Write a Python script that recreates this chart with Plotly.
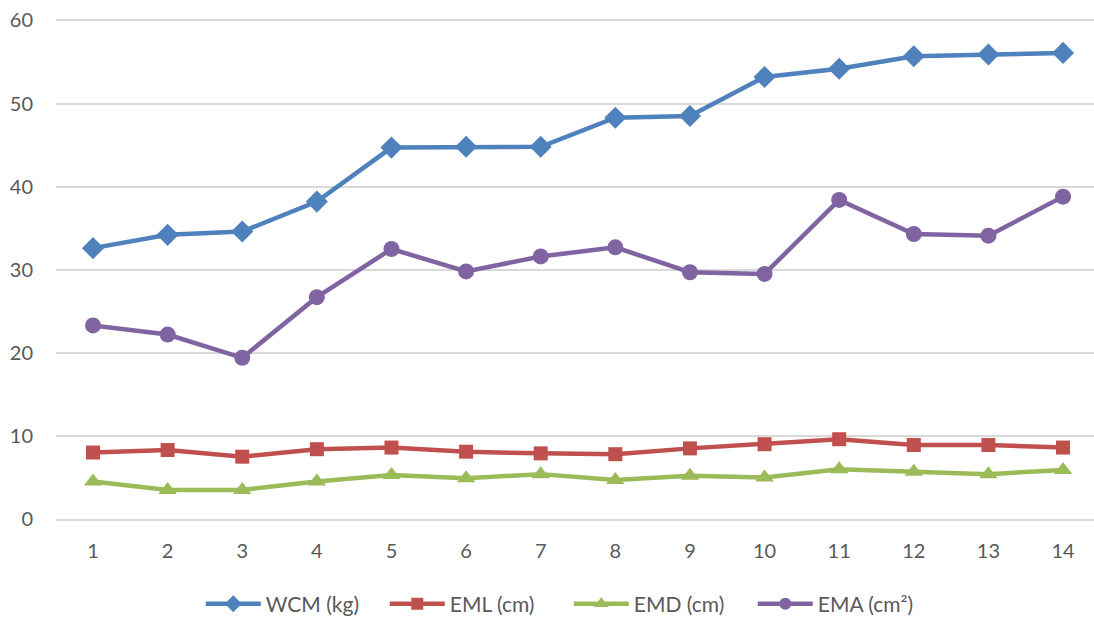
import plotly.graph_objects as go

# Sample index on the category axis
samples = list(range(1, 15))

wcm_kg = [32.6, 34.2, 34.6, 38.2, 44.7, 44.8, 44.8, 48.3, 48.5, 53.2, 54.2, 55.7, 55.9, 56.1]
eml_cm = [8.0, 8.3, 7.5, 8.4, 8.6, 8.1, 7.9, 7.8, 8.5, 9.0, 9.6, 8.9, 8.9, 8.6]
emd_cm = [4.5, 3.5, 3.5, 4.5, 5.3, 4.9, 5.4, 4.7, 5.2, 5.0, 6.0, 5.7, 5.4, 5.9]
ema_cm2 = [23.3, 22.2, 19.4, 26.7, 32.5, 29.8, 31.6, 32.7, 29.7, 29.5, 38.4, 34.3, 34.1, 38.8]

# name, values, colour, marker symbol, marker size on plot, marker size in legend
series = [
    ("WCM (kg)", wcm_kg, "#4F81BD", "diamond", 17, 13),
    ("EML (cm)", eml_cm, "#C0504D", "square", 14, 12),
    ("EMD (cm)", emd_cm, "#9BBB59", "triangle-up", 16, 13),
    ("EMA (cm²)", ema_cm2, "#8064A2", "circle", 16, 12),
]

fig = go.Figure()
for name, vals, color, symbol, size, _ in series:
    fig.add_trace(go.Scatter(
        x=samples, y=vals, name=name, mode="lines+markers", showlegend=False,
        line=dict(color=color, width=4.5),
        marker=dict(symbol=symbol, size=size, color=color),
    ))

# Legend entries with smaller symbols
for name, _, color, symbol, _, lsize in series:
    fig.add_trace(go.Scatter(
        x=[None], y=[None], name=name, mode="lines+markers",
        line=dict(color=color, width=4.5),
        marker=dict(symbol=symbol, size=lsize, color=color),
    ))

font_family = "Lato, Open Sans, sans-serif"
fig.update_layout(
    width=1094, height=617,
    margin=dict(l=56, r=0, t=18, b=98, autoexpand=False),
    paper_bgcolor="white", plot_bgcolor="white",
    font=dict(family=font_family, size=20, color="#595959"),
    showlegend=True,
    legend=dict(orientation="h", x=0.494, xanchor="center", y=-0.17, yanchor="middle",
                itemwidth=55, itemsizing="trace", entrywidth=114, entrywidthmode="pixels",
                font=dict(size=21, color="#595959"), traceorder="normal"),
    xaxis=dict(range=[0.504, 14.415], tickmode="array", tickvals=samples,
               ticktext=[str(s) for s in samples], showgrid=False, zeroline=False,
               showline=True, linecolor="#D9D9D9", linewidth=1.5, ticks="",
               ticklabelstandoff=13),
    yaxis=dict(range=[0, 60.3], tickvals=[0, 10, 20, 30, 40, 50, 60],
               showgrid=True, gridcolor="#D9D9D9", gridwidth=1.5, zeroline=False,
               showline=False, ticks="", ticklabelstandoff=22),
)

fig.write_html("out.html")
